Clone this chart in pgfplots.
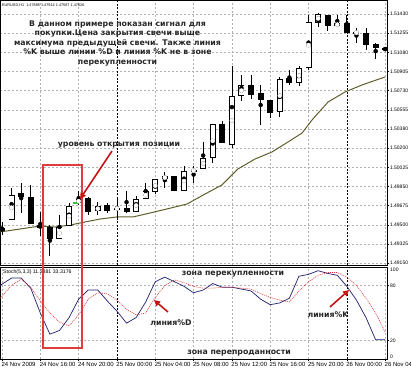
\documentclass[border=0pt]{standalone}
\usepackage{fontspec}
\setmainfont{Liberation Sans}
\newfontfamily\annot{DejaVu Sans}
\usepackage{pgfplots}
\pgfplotsset{compat=1.18}
\usepackage{pgfplotstable}
\usetikzlibrary{arrows.meta}

\definecolor{maol}{RGB}{95,95,45}
\definecolor{kcol}{RGB}{30,30,110}
\definecolor{dcol}{RGB}{225,50,50}
\definecolor{arr}{RGB}{200,20,20}
\definecolor{boxc}{RGB}{225,60,60}
\definecolor{gridc}{RGB}{175,175,175}
\definecolor{grn}{RGB}{60,200,60}

% white (bullish) candles: h open high low close
\pgfplotstableread{
h O H L C
1 1.49544 1.49836 1.49544 1.49772
6 1.49371 1.49590 1.49371 1.49480
7 1.49489 1.49699 1.49489 1.49672
8 1.49699 1.49809 1.49681 1.49736
10 1.49626 1.49708 1.49590 1.49672
12 1.49645 1.49754 1.49553 1.49654
14 1.49617 1.49763 1.49617 1.49736
15 1.49736 1.49882 1.49736 1.49809
16 1.49800 1.49918 1.49781 1.49918
17 1.49918 1.49982 1.49836 1.49946
19 1.49809 1.50037 1.49809 1.49991
20 1.49991 1.50037 1.49882 1.50001
21 1.50010 1.50256 1.50010 1.50110
22 1.50110 1.50421 1.50065 1.50421
24 1.50229 1.50950 1.50201 1.50676
25 1.50676 1.50868 1.50631 1.50777
29 1.50530 1.50850 1.50485 1.50831
31 1.50795 1.50950 1.50768 1.50932
32 1.50932 1.51416 1.50914 1.51352
33 1.51343 1.51434 1.51306 1.51425
35 1.51315 1.51416 1.51306 1.51343
37 1.51251 1.51297 1.51160 1.51260
}\whitec

% black (bearish) candles: h open high low close
\pgfplotstableread{
h O H L C
0 1.49471 1.49526 1.49407 1.49444
2 1.49791 1.49882 1.49608 1.49754
3 1.49754 1.49864 1.49508 1.49508
4 1.49498 1.49617 1.49398 1.49471
5 1.49480 1.49498 1.49215 1.49371
9 1.49745 1.49754 1.49590 1.49617
11 1.49681 1.49699 1.49608 1.49626
13 1.49654 1.49809 1.49608 1.49617
18 1.49946 1.49946 1.49809 1.49809
23 1.50421 1.50448 1.50247 1.50247
26 1.50777 1.50868 1.50649 1.50685
27 1.50704 1.50777 1.50411 1.50640
28 1.50640 1.50640 1.50475 1.50521
30 1.50841 1.50914 1.50777 1.50795
34 1.51416 1.51416 1.51270 1.51315
36 1.51343 1.51416 1.51251 1.51251
38 1.51251 1.51297 1.51096 1.51142
39 1.51151 1.51160 1.51014 1.51115
40 1.51115 1.51115 1.51096 1.51096
}\blackc

\pgfplotsset{
  mtgrid/.style={grid=major, major grid style={gridc, line width=0.5pt, dash pattern=on 2pt off 2pt}},
  daysep/.style={major grid style={black, line width=0.6pt, dash pattern=on 2pt off 1.5pt}},
}

\begin{document}
\begin{tikzpicture}[x=1pt,y=1pt]
% ---------------- price panel ----------------
\begin{axis}[
  at={(0pt,108pt)}, anchor=south west, scale only axis,
  width=387pt, height=265pt,
  xmin=-0.209, xmax=40.19, ymin=1.491333, ymax=1.515527,
  axis line style={black, line width=0.8pt},
  mtgrid,
  xtick={4,8,16,20,24,28,32,40}, xticklabels={},
  extra x ticks={12,36}, extra x tick labels={},
  extra x tick style={daysep, xtick style={draw=none}},
  xtick style={draw=none},
  ytick={1.49150,1.49325,1.49500,1.49675,1.49850,1.50025,1.50200,1.50375,1.50550,1.50725,1.50900,1.51075,1.51250,1.51425},
  yticklabels={1.49150,1.49325,1.49500,1.49675,1.49850,1.50025,1.50200,1.50380,1.50555,1.50730,1.50905,1.51080,1.51255,1.51430},
  ytick pos=right, yticklabel pos=right,
  tick align=outside, major tick length=2pt,
  ytick style={black, line width=0.4pt},
  yticklabel style={font=\fontsize{5}{5}\selectfont, anchor=west, inner sep=0.8pt},
]
% moving average
\addplot[maol, line width=1pt] coordinates {
(-0.2,1.49435) (1.88,1.49462) (3.97,1.49489) (5.53,1.49480) (7.10,1.49498)
(8.66,1.49526) (10.23,1.49553) (12.0,1.49572) (13.67,1.49572) (15.45,1.49608)
(17.22,1.49645) (19.31,1.49690) (21.19,1.49781) (22.96,1.49864) (24.63,1.50010)
(26.41,1.50101) (28.18,1.50165) (29.85,1.50256) (31.32,1.50338) (32.36,1.50457)
(34.03,1.50621) (35.80,1.50713) (37.58,1.50777) (39.98,1.50850)};
% wicks
\addplot[black, only marks, mark=none, forget plot,
  error bars/.cd, y dir=both, y explicit, error mark=none,
  error bar style={line width=0.8pt, black}]
  table[x=h, y expr=(\thisrow{H}+\thisrow{L})/2, y error expr=(\thisrow{H}-\thisrow{L})/2] {\whitec};
\addplot[black, only marks, mark=none, forget plot,
  error bars/.cd, y dir=both, y explicit, error mark=none,
  error bar style={line width=0.8pt, black}]
  table[x=h, y expr=(\thisrow{H}+\thisrow{L})/2, y error expr=(\thisrow{H}-\thisrow{L})/2] {\blackc};
% bodies
\addplot[black, only marks, mark=none, forget plot,
  error bars/.cd, y dir=both, y explicit, error mark=none,
  error bar style={line width=6pt, black}]
  table[x=h, y expr=(\thisrow{O}+\thisrow{C})/2, y error expr={abs(\thisrow{C}-\thisrow{O})/2}] {\blackc};
\addplot[black, only marks, mark=none, forget plot,
  error bars/.cd, y dir=both, y explicit, error mark=none,
  error bar style={line width=6pt, black}]
  table[x=h, y expr=(\thisrow{O}+\thisrow{C})/2, y error expr={abs(\thisrow{C}-\thisrow{O})/2}] {\whitec};
\addplot[white, only marks, mark=none, forget plot,
  error bars/.cd, y dir=both, y explicit, error mark=none,
  error bar style={line width=4.4pt, white}]
  table[x=h, y expr=(\thisrow{O}+\thisrow{C})/2, y error expr={max(abs(\thisrow{C}-\thisrow{O})/2-0.000073,0)}] {\whitec};
% entry marker
\addplot[grn, line width=1.3pt] coordinates {(7.4,1.49699) (8.05,1.49699)};
\end{axis}

% ---------------- stochastic panel ----------------
\begin{axis}[
  at={(0pt,14pt)}, anchor=south west, scale only axis,
  width=387pt, height=92pt,
  xmin=-0.209, xmax=40.19, ymin=0, ymax=100,
  axis line style={black, line width=0.8pt},
  mtgrid,
  xtick={0,4,8,16,20,24,28,32,40},
  xticklabels={24 Nov 2009,24 Nov 16:00,24 Nov 20:00,25 Nov 04:00,25 Nov 08:00,25 Nov 12:00,25 Nov 16:00,25 Nov 20:00,26 Nov 04:00},
  extra x ticks={12,36}, extra x tick labels={25 Nov 00:00,26 Nov 00:00},
  extra x tick style={daysep},
  xticklabel style={font=\fontsize{6}{6}\selectfont, anchor=north west, xshift=-1.5pt, inner sep=0.8pt},
  ytick={20,80}, yticklabels={20,80},
  ytick pos=right, yticklabel pos=right, xtick pos=bottom,
  tick align=outside, major tick length=2pt,
  tick style={black, line width=0.4pt},
  yticklabel style={font=\fontsize{5}{5}\selectfont, anchor=west, inner sep=0.8pt},
]
\addplot[kcol, line width=0.7pt] coordinates {
(-0.2,80) (1,88) (2,88) (3,77) (4,50) (5,27) (6,31) (7,45) (8,65) (9,75) (10,75)
(11,63) (12,52) (13,39) (14,45) (15,62) (16,84) (17,89) (18,84) (19,79) (20,72)
(21,75) (22,82) (23,78) (24,78) (25,76) (26,74) (27,65) (28,59) (29,61) (30,66)
(31,90) (32,92) (33,96) (34,93) (35,91) (36,79) (37,64) (38,45) (39,21) (40,21)};
\addplot[dcol, line width=0.6pt, dash pattern=on 1pt off 1pt] coordinates {
(-0.2,66) (1,80) (2,87) (3,78) (4,63) (5,50) (6,40) (7,36) (8,48) (9,65) (10,72)
(11,71) (12,64) (13,54) (14,48) (15,50) (16,67) (17,80) (18,86) (19,83) (20,79)
(21,77) (22,77) (23,78) (24,78) (25,77) (26,76) (27,71) (28,67) (29,64) (30,62)
(31,74) (32,84) (33,91) (34,94) (35,94) (36,89) (37,80) (38,66) (39,50) (40,29)};
\end{axis}

% ---------------- annotations ----------------
\node[anchor=west, inner sep=0pt, font=\fontsize{3.8}{4}\selectfont] at (2,368) {EURUSD,H1\ \ 1.47885 1.47914 1.47587 1.47626};
\node[anchor=west, inner sep=0pt, font=\fontsize{5.2}{5}\selectfont] at (3,101) {Stoch(5,3,3) 11.2381 33.3176};
\node[anchor=west, inner sep=0pt, font=\fontsize{5}{5}\selectfont] at (390,103) {100};
\node[anchor=west, inner sep=0pt, font=\fontsize{5}{5}\selectfont] at (390,16) {0};

\node[align=center, inner sep=0pt, text=black!85, font=\annot\bfseries\fontsize{7.8}{9.5}\selectfont] at (117.5,330)
 {В данном примере показан сигнал для\\покупки.Цена закрытия свечи выше\\максимума предыдущей свечи. Также линия\\\%K выше линии \%D и линия \%K не в зоне\\перекупленности};
\node[inner sep=0pt, text=black!85, font=\annot\bfseries\fontsize{7.8}{9}\selectfont] at (119,228) {уровень открытия позиции};
\node[inner sep=0pt, text=black!85, font=\annot\bfseries\fontsize{7.8}{9}\selectfont] at (233,99) {зона перекупленности};
\node[inner sep=0pt, text=black!85, font=\annot\bfseries\fontsize{7.8}{9}\selectfont] at (239,20) {зона перепроданности};
\node[inner sep=0pt, text=black!85, font=\annot\bfseries\fontsize{7.8}{9}\selectfont] at (171,50) {линия\%D};
\node[inner sep=0pt, text=black!85, font=\annot\bfseries\fontsize{7.8}{9}\selectfont] at (328,58) {линия\%K};

\draw[boxc, line width=1.2pt] (43,208) rectangle (82,25);
\draw[arr, line width=1.6pt, -{Triangle[length=6pt,width=6pt]}] (112,222) -- (80,174);
\draw[arr, line width=1.6pt, -{Triangle[length=6pt,width=6pt]}] (168,61) -- (154,73);
\draw[arr, line width=1.6pt, -{Triangle[length=6pt,width=6pt]}] (330,66) -- (349,83);

\pgfresetboundingbox
\useasboundingbox (0,0) rectangle (411,373);
\end{tikzpicture}
\end{document}
